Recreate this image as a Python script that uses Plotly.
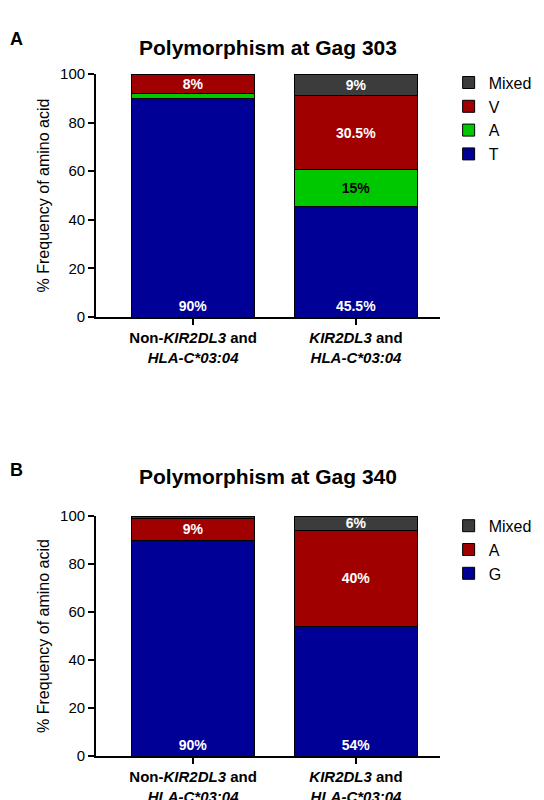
import plotly.graph_objects as go

groups = ["Non-KIR2DL3", "KIR2DL3"]
tick_labels = ["<b>Non-<i>KIR2DL3</i> and<br><i>HLA-C*03:04</i></b>",
               "<b><i>KIR2DL3</i> and<br><i>HLA-C*03:04</i></b>"]

# Gag 303
a_T = [90, 45.5]
a_A = [2, 15]
a_V = [8, 30.5]
a_Mixed = [0, 9]
a_text = {"T": ["90%", "45.5%"], "A": ["", "15%"], "V": ["8%", "30.5%"], "Mixed": ["", "9%"]}

# Gag 340
b_G = [90, 54]
b_A = [9, 40]
b_Mixed = [1, 6]
b_text = {"G": ["90%", "54%"], "A": ["9%", "40%"], "Mixed": ["", "6%"]}

colors = {"T": "#000096", "G": "#000096", "A_green": "#00c800", "A_red": "#a00000",
          "V": "#a00000", "Mixed": "#3c3c3c"}

FONT = "Liberation Sans, Arial"
fig = go.Figure()

def add(name, vals, txt, color, xa, ya, legend, bottom=False, tcolor="white"):
    fig.add_trace(go.Bar(
        x=[0, 1], y=vals, name=name, text=[f"<b>{t}</b>" if t else "" for t in txt],
        texttemplate="%{text}",
        textposition="inside", insidetextanchor="start" if bottom else "middle",
        textfont=dict(color=tcolor, size=14, family=FONT),
        constraintext="none", width=0.75,
        marker=dict(color=color, line=dict(color="black", width=1)),
        xaxis=xa, yaxis=ya, legend=legend, hoverinfo="skip"))

add("T", a_T, a_text["T"], colors["T"], "x", "y", "legend", bottom=True)
add("A", a_A, a_text["A"], colors["A_green"], "x", "y", "legend", tcolor="black")
add("V", a_V, a_text["V"], colors["V"], "x", "y", "legend")
add("Mixed", a_Mixed, a_text["Mixed"], colors["Mixed"], "x", "y", "legend")
add("G", b_G, b_text["G"], colors["G"], "x2", "y2", "legend2", bottom=True)
add("A", b_A, b_text["A"], colors["A_red"], "x2", "y2", "legend2")
add("Mixed", b_Mixed, b_text["Mixed"], colors["Mixed"], "x2", "y2", "legend2")

xcommon = dict(range=[-0.595, 1.515], tickvals=[0, 1], ticktext=tick_labels,
               showline=True, linecolor="black", linewidth=2, ticks="outside",
               tickcolor="black", ticklen=6, tickwidth=2,
               tickfont=dict(size=15, color="black", family=FONT), domain=[0.162, 0.794])
ycommon = dict(range=[0, 100], tickvals=[0, 20, 40, 60, 80, 100], showline=True,
               linecolor="black", linewidth=2, ticks="outside", tickcolor="black",
               ticklen=6, tickwidth=2, showgrid=False, zeroline=False,
               tickfont=dict(size=15, color="black", family=FONT),
               title=dict(text="% Frequency of amino acid", font=dict(size=16, color="black", family=FONT), standoff=6))

legend_common = dict(traceorder="reversed", font=dict(size=16, color="black", family=FONT),
                     bgcolor="rgba(0,0,0,0)", itemwidth=30, tracegroupgap=0, xanchor="left", yanchor="top")

fig.update_layout(
    width=544, height=800, barmode="stack", plot_bgcolor="white", paper_bgcolor="white",
    margin=dict(l=0, r=0, t=0, b=0, autoexpand=False),
    xaxis=dict(xcommon, anchor="y"),
    yaxis=dict(ycommon, domain=[0.61375, 0.9175], anchor="x"),
    xaxis2=dict(xcommon, anchor="y2"),
    yaxis2=dict(ycommon, domain=[0.065, 0.365], anchor="x2"),
    legend=dict(legend_common, x=0.81, y=0.928),
    legend2=dict(legend_common, x=0.81, y=0.374),
    annotations=[
        dict(text="<b>Polymorphism at Gag 303</b>", x=0.478, y=0.968, xref="paper", yref="paper",
             showarrow=False, font=dict(size=21, color="black", family=FONT)),
        dict(text="<b>Polymorphism at Gag 340</b>", x=0.478, y=0.414, xref="paper", yref="paper",
             showarrow=False, font=dict(size=21, color="black", family=FONT)),
        dict(text="<b>A</b>", x=0.0, y=0.976, xref="paper", yref="paper", xanchor="left",
             showarrow=False, font=dict(size=18, color="black", family=FONT)),
        dict(text="<b>B</b>", x=0.0, y=0.422, xref="paper", yref="paper", xanchor="left",
             showarrow=False, font=dict(size=18, color="black", family=FONT)),
    ],
)

fig.write_html("out.html")
